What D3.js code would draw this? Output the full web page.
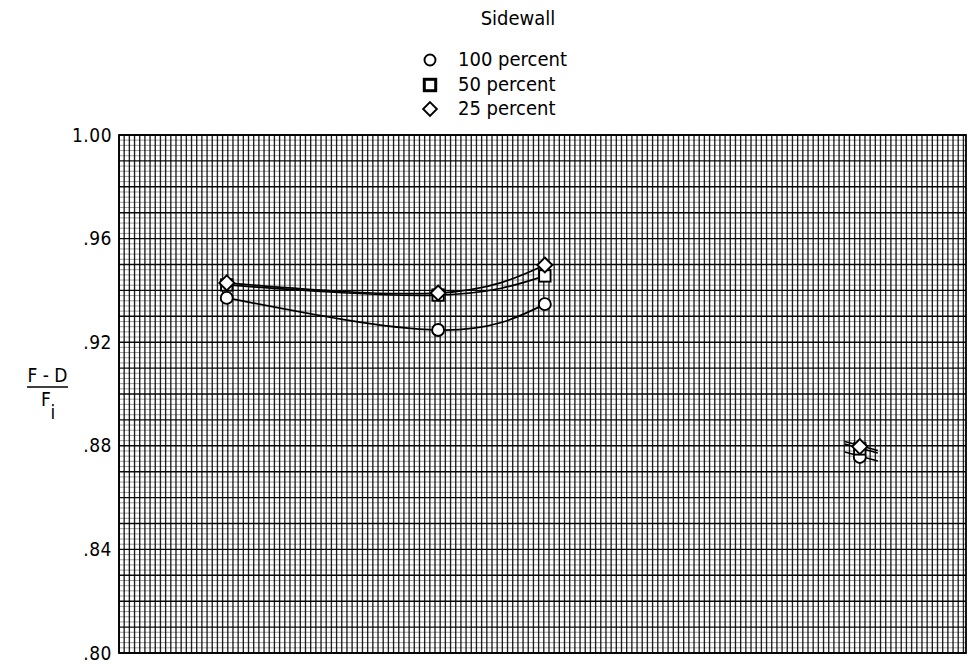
<!DOCTYPE html>
<html>
<head>
<meta charset="utf-8">
<script src="https://cdn.jsdelivr.net/npm/d3@7"></script>
<style>
  html, body { margin: 0; padding: 0; background: #fff; }
  svg { display: block; }
  text { font-family: "DejaVu Sans Condensed", "Liberation Sans Narrow", "Liberation Sans", sans-serif; font-stretch: condensed; fill: #000; }
</style>
</head>
<body>
<script>
// ---------------- data ----------------
const legendTitle = "Sidewall";
const seriesNames = ["100 percent", "50 percent", "25 percent"];
const seriesSymbols = ["circle", "square", "diamond"];
const curveX = [2.08, 6.16, 8.22];            // connected points (x in grid units)
const isolatedX = 14.3;                        // single un-connected point
const values100 = [0.9371, 0.9247, 0.9347];
const values50  = [0.9421, 0.9382, 0.9456];
const values25  = [0.9429, 0.9390, 0.9498];
const isolated100 = 0.8757;
const isolated50  = 0.8788;
const isolated25  = 0.8797;
const yTicks = [0.80, 0.84, 0.88, 0.92, 0.96, 1.00];
const yTickLabels = [".80", ".84", ".88", ".92", ".96", "1.00"];
const xDomain = [0, 16.35];
const yDomain = [0.80, 1.00];

// ---------------- layout ----------------
const W = 972, H = 664;
const plot = { left: 119, right: 966, top: 135, bottom: 653 };

const svg = d3.select("body").append("svg").attr("width", W).attr("height", H);

const x = d3.scaleLinear().domain(xDomain).range([plot.left, plot.right]);
const y = d3.scaleLinear().domain(yDomain).range([plot.bottom, plot.top]);

// ---------------- graph-paper grid ----------------
const grid = svg.append("g");
const yMinor = d3.range(0, 101).map(i => yDomain[0] + i * 0.002);
grid.selectAll("line.hy").data(yMinor).enter().append("line")
  .attr("x1", plot.left).attr("x2", plot.right)
  .attr("y1", d => y(d)).attr("y2", d => y(d))
  .attr("stroke", "#000")
  .attr("stroke-width", (d, i) => i % 5 === 0 ? 1.4 : 0.9)
  .attr("stroke-opacity", (d, i) => i % 5 === 0 ? 0.95 : 0.45);

const xMinor = d3.range(0, xDomain[1] + 1e-9, 0.1);
grid.selectAll("line.vx").data(xMinor).enter().append("line")
  .attr("x1", d => x(d)).attr("x2", d => x(d))
  .attr("y1", plot.top).attr("y2", plot.bottom)
  .attr("stroke", "#000")
  .attr("stroke-width", 1.35)
  .attr("stroke-opacity", 0.88);

// frame
svg.append("rect")
  .attr("x", plot.left).attr("y", plot.top)
  .attr("width", plot.right - plot.left).attr("height", plot.bottom - plot.top)
  .attr("fill", "none").attr("stroke", "#000").attr("stroke-width", 1.8);

// ---------------- y axis ----------------
const yAxis = d3.axisLeft(y).tickValues(yTicks)
  .tickFormat((d, i) => yTickLabels[i]).tickSize(0).tickPadding(7);
const ya = svg.append("g").attr("transform", `translate(${plot.left},0)`).call(yAxis);
ya.select(".domain").remove();
ya.selectAll("text")
  .style("font-family", "\"DejaVu Sans Condensed\", \"Liberation Sans Narrow\", sans-serif")
  .style("font-size", "19px").style("letter-spacing", "0.5px");

// y-axis title: (F - D) / F_i
const yt = svg.append("g");
yt.append("text").attr("x", 47.5).attr("y", 382).attr("text-anchor", "middle")
  .style("font-size", "19px").text("F - D");
yt.append("line").attr("x1", 27).attr("x2", 68).attr("y1", 387).attr("y2", 387)
  .attr("stroke", "#000").attr("stroke-width", 1.6);
const fi = yt.append("text").attr("x", 41).attr("y", 406).style("font-size", "19px");
fi.append("tspan").text("F");
fi.append("tspan").attr("dy", 13).attr("dx", 1).text("i");

// ---------------- symbols ----------------
function drawSymbol(g, type, cx, cy, size, bold) {
  const sw = bold ? 3 : 1.9;
  if (type === "circle") {
    g.append("circle").attr("cx", cx).attr("cy", cy).attr("r", size)
      .attr("fill", "#fff").attr("stroke", "#000").attr("stroke-width", sw);
  } else if (type === "square") {
    const s = size * 0.95;
    g.append("rect").attr("x", cx - s).attr("y", cy - s).attr("width", 2 * s).attr("height", 2 * s)
      .attr("fill", "#fff").attr("stroke", "#000").attr("stroke-width", sw);
  } else {
    const s = size * 1.25;
    g.append("path").attr("d", `M${cx},${cy - s}L${cx + s},${cy}L${cx},${cy + s}L${cx - s},${cy}Z`)
      .attr("fill", "#fff").attr("stroke", "#000").attr("stroke-width", sw);
  }
}

// ---------------- series ----------------
const series = [
  { name: seriesNames[0], sym: seriesSymbols[0], vals: values100, iso: isolated100 },
  { name: seriesNames[1], sym: seriesSymbols[1], vals: values50,  iso: isolated50 },
  { name: seriesNames[2], sym: seriesSymbols[2], vals: values25,  iso: isolated25 }
];

const line = d3.line().x(d => x(d[0])).y(d => y(d[1])).curve(d3.curveNatural);
const gLines = svg.append("g");
series.forEach(s => {
  gLines.append("path")
    .datum(curveX.map((cx, i) => [cx, s.vals[i]]))
    .attr("d", line).attr("fill", "none")
    .attr("stroke", "#000").attr("stroke-width", 1.7);
});

// flag strokes through the isolated cluster
series.forEach(s => {
  const px = x(isolatedX), py = y(s.iso);
  gLines.append("line")
    .attr("x1", px - 15).attr("y1", py - 5).attr("x2", px + 18).attr("y2", py + 4)
    .attr("stroke", "#000").attr("stroke-width", 1.6);
});

const gPts = svg.append("g");
series.forEach(s => {
  curveX.forEach((cx, i) => drawSymbol(gPts, s.sym, x(cx), y(s.vals[i]), 6, false));
  drawSymbol(gPts, s.sym, x(isolatedX), y(s.iso), 6, false);
});

// ---------------- legend ----------------
svg.append("text").attr("x", 518).attr("y", 25).attr("text-anchor", "middle")
  .style("font-size", "20px").text(legendTitle);
const legendRowY = [60, 85, 109];
series.forEach((s, i) => {
  const g = svg.append("g");
  drawSymbol(g, s.sym, 430, legendRowY[i], s.sym === "square" ? 6 : 5.5, s.sym === "square");
  g.append("text").attr("x", 458).attr("y", legendRowY[i] + 6)
    .style("font-size", "20px").text(s.name);
});
</script>
</body>
</html>
